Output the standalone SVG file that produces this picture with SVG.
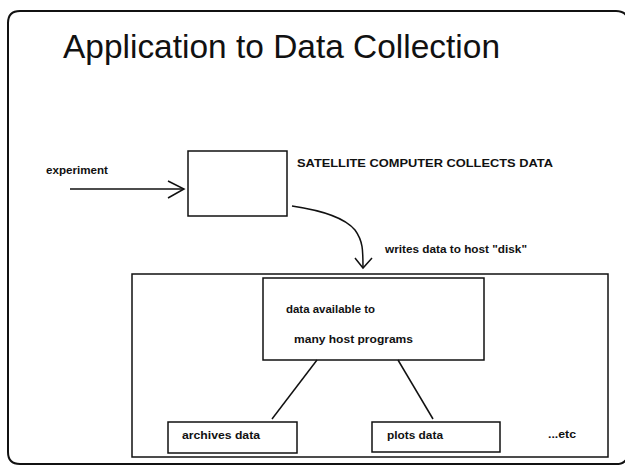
<svg xmlns="http://www.w3.org/2000/svg" width="625" height="466" viewBox="0 0 625 466">
<style>
.box{fill:none;stroke:#111;stroke-width:1.5}
.ln{fill:none;stroke:#111;stroke-width:1.5}
.t{font-family:"Liberation Sans",Arial,sans-serif;font-weight:bold;font-size:11px;fill:#111}
.title{font-family:"Liberation Sans",Arial,sans-serif;font-size:33px;fill:#111}
</style>
<rect width="625" height="466" fill="#fff"/>
<path d="M8,452 L8,23 Q8,11 20,11 L616,11 Q628,11 628,23 L628,452 Q628,464 616,464 L20,464 Q8,464 8,452 Z" fill="none" stroke="#111" stroke-width="2"/>
<text class="title" x="63" y="58" textLength="437" lengthAdjust="spacingAndGlyphs">Application to Data Collection</text>
<g id="experiment">
<text class="t" x="46" y="174" textLength="62" lengthAdjust="spacingAndGlyphs">experiment</text>
</g>
<g id="satellite">
<rect class="box" x="188" y="151" width="99" height="65"/>
<text class="t" x="297" y="167" font-size="12" textLength="256" lengthAdjust="spacingAndGlyphs">SATELLITE COMPUTER COLLECTS DATA</text>
</g>
<g id="host">
<rect class="box" x="132" y="274" width="476" height="183"/>
<text class="t" x="548" y="438" textLength="28" lengthAdjust="spacingAndGlyphs">...etc</text>
</g>
<g id="available">
<rect class="box" x="263" y="278" width="221" height="82"/>
<text class="t" x="286" y="313" textLength="89" lengthAdjust="spacingAndGlyphs">data available to</text>
<text class="t" x="294" y="343" textLength="119" lengthAdjust="spacingAndGlyphs">many host programs</text>
</g>
<g id="archives">
<rect class="box" x="168" y="422" width="129" height="31"/>
<text class="t" x="182" y="439" textLength="78" lengthAdjust="spacingAndGlyphs">archives data</text>
</g>
<g id="plots">
<rect class="box" x="372" y="422" width="128" height="30"/>
<text class="t" x="387" y="439" textLength="56" lengthAdjust="spacingAndGlyphs">plots data</text>
</g>
<g id="connectors">
<path class="ln" d="M70,189 L184,189"/>
<path class="ln" d="M168,181 L184,189 L168,198"/>
<path class="ln" d="M292,206 C325,211 345,218 355,230 C363,241 363,250 363,268"/>
<path class="ln" d="M355,258 L363,268 L372,258"/>
<text class="t" x="385" y="253" textLength="142" lengthAdjust="spacingAndGlyphs">writes data to host "disk"</text>
<path class="ln" d="M317,360 L272,419"/>
<path class="ln" d="M398,360 L433,419"/>
</g>
</svg>
